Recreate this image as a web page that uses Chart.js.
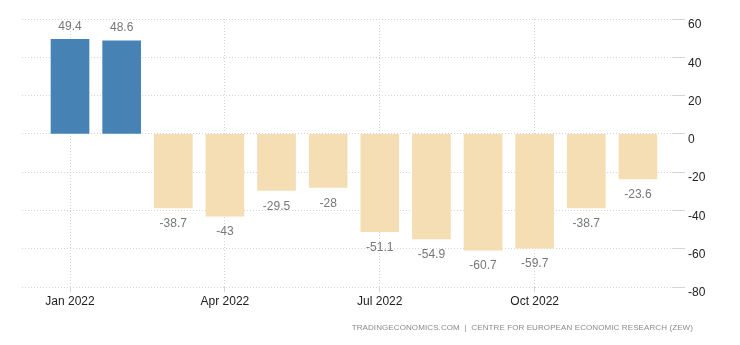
<!DOCTYPE html>
<html>
<head>
<meta charset="utf-8">
<script src="https://cdn.jsdelivr.net/npm/chart.js@4.4.0/dist/chart.umd.min.js"></script>
<style>
  html, body { margin: 0; padding: 0; background: #fff; }
  #wrap { position: relative; width: 740px; height: 345px; }
  #source {
    position: absolute; right: 47px; top: 323px;
    font: 8px "Liberation Sans", Arial, sans-serif; letter-spacing: 0.1px;
    color: #8a8a8a; white-space: nowrap;
  }
</style>
</head>
<body>
<div id="wrap">
  <canvas id="chart" width="740" height="345"></canvas>
  <div id="source">TRADINGECONOMICS.COM &nbsp;| &nbsp;CENTRE FOR EUROPEAN ECONOMIC RESEARCH (ZEW)</div>
</div>
<script>
// Monthly values, Jan 2022 .. Dec 2022
const months = ['Jan 2022', 'Feb 2022', 'Mar 2022', 'Apr 2022', 'May 2022', 'Jun 2022',
                'Jul 2022', 'Aug 2022', 'Sep 2022', 'Oct 2022', 'Nov 2022', 'Dec 2022'];
const values = [49.4, 48.6, -38.7, -43, -29.5, -28, -51.1, -54.9, -60.7, -59.7, -38.7, -23.6];
const tickMonths = [0, 3, 6, 9];
const yTicks = [60, 40, 20, 0, -20, -40, -60, -80];

const points = values.map((v, i) => ({ x: i, y: v }));

// draw value labels above / below each bar
const valueLabels = {
    id: 'valueLabels',
    afterDatasetsDraw(chart) {
        const ctx = chart.ctx;
        const meta = chart.getDatasetMeta(0);
        ctx.save();
        ctx.font = '12px "Liberation Sans", Arial, sans-serif';
        ctx.fillStyle = '#777';
        ctx.textAlign = 'center';
        ctx.textBaseline = 'middle';
        meta.data.forEach((bar, i) => {
            const v = values[i];
            const y = v >= 0 ? bar.y - 13 : bar.y + 16;
            ctx.fillText(String(v), bar.x, y);
        });
        ctx.restore();
    }
};

const ctx = document.getElementById('chart').getContext('2d');
new Chart(ctx, {
    type: 'bar',
    data: {
        datasets: [{
            data: points,
            backgroundColor: values.map(v => v >= 0 ? '#4682b4' : '#f5deb3'),
            borderWidth: 0,
            barThickness: 38
        }]
    },
    options: {
        responsive: false,
        animation: false,
        layout: { padding: { left: 22, top: 19, right: 0, bottom: 0 } },
        plugins: {
            legend: { display: false },
            tooltip: { enabled: false }
        },
        scales: {
            x: {
                type: 'linear',
                min: -0.93,
                max: 11.66,
                offset: false,
                afterBuildTicks: scale => {
                    scale.ticks = tickMonths.map(v => ({ value: v }));
                },
                afterFit: scale => { scale.height = 58; },
                ticks: {
                    callback: v => months[v],
                    color: '#222',
                    font: { size: 12, family: '"Liberation Sans", Arial, sans-serif' },
                    padding: 2,
                    maxRotation: 0
                },
                grid: {
                    offset: false,
                    color: '#d4d4d4',
                    tickLength: 5,
                    drawTicks: true
                },
                border: { display: false, dash: [1, 2] }
            },
            y: {
                position: 'right',
                min: -80,
                max: 60,
                afterBuildTicks: scale => {
                    scale.ticks = yTicks.map(v => ({ value: v }));
                },
                afterFit: scale => { scale.width = 68; },
                ticks: {
                    color: '#222',
                    font: { size: 12, family: '"Liberation Sans", Arial, sans-serif' },
                    padding: 3,
                    align: 'start',
                    crossAlign: 'near'
                },
                grid: {
                    color: '#d4d4d4',
                    tickLength: 13,
                    drawTicks: true
                },
                border: { display: false, dash: [1, 2] }
            }
        }
    },
    plugins: [valueLabels]
});
</script>
</body>
</html>
